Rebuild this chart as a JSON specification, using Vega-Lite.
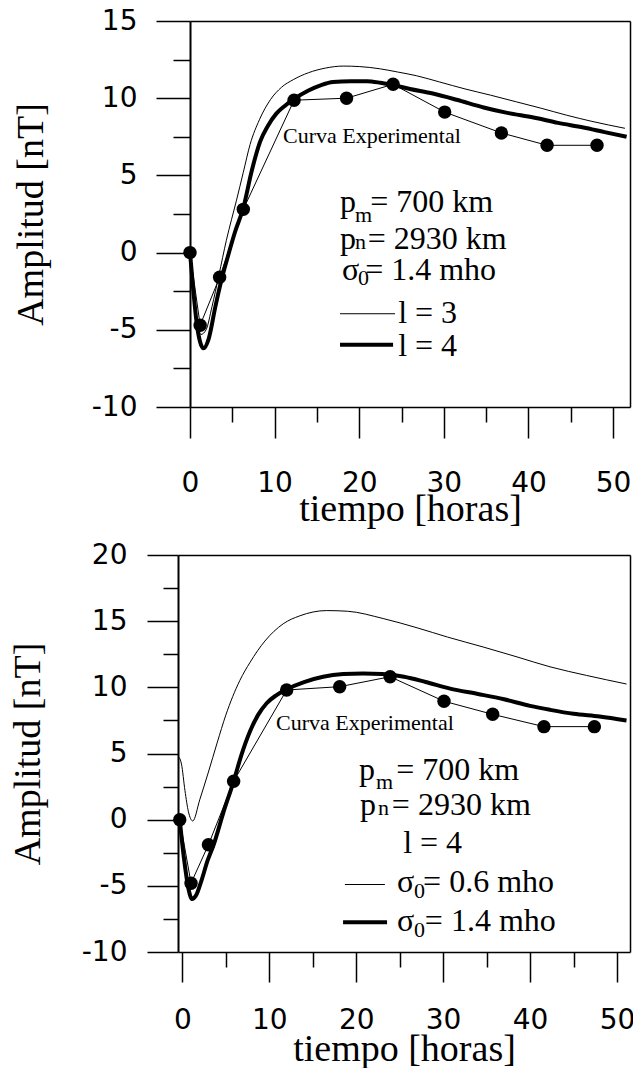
{
  "$schema": "https://vega.github.io/schema/vega-lite/v6.json",
  "background": "white",
  "padding": {"left": 9, "top": 7, "right": 0, "bottom": 0},
  "spacing": 13,
  "datasets": {
    "top_l3": [
      {"t": 0, "a": 0}, {"t": 0.4, "a": -2.3}, {"t": 0.8, "a": -4.3}, {"t": 1.3, "a": -5.3}, {"t": 1.9, "a": -5.0},
      {"t": 2.6, "a": -3.5}, {"t": 3.4, "a": -1.5}, {"t": 4.3, "a": 0.8}, {"t": 5.5, "a": 3.4}, {"t": 6.3, "a": 5.2},
      {"t": 7.1, "a": 7.0}, {"t": 8.2, "a": 8.6}, {"t": 9.5, "a": 9.9}, {"t": 10.8, "a": 10.7}, {"t": 12.2, "a": 11.2},
      {"t": 14, "a": 11.65}, {"t": 16, "a": 11.95}, {"t": 18.1, "a": 12.08}, {"t": 20, "a": 12.05}, {"t": 22.5, "a": 11.9},
      {"t": 24.5, "a": 11.7}, {"t": 26.8, "a": 11.45}, {"t": 29.5, "a": 11.05}, {"t": 32.5, "a": 10.6}, {"t": 35.5, "a": 10.2},
      {"t": 38.6, "a": 9.76}, {"t": 41.5, "a": 9.35}, {"t": 44.5, "a": 8.9}, {"t": 47.5, "a": 8.5}, {"t": 51.4, "a": 8.05}
    ],
    "top_l4": [
      {"t": 0, "a": 0}, {"t": 0.4, "a": -2.5}, {"t": 0.8, "a": -4.6}, {"t": 1.2, "a": -5.8}, {"t": 1.6, "a": -6.2},
      {"t": 2.2, "a": -5.6}, {"t": 3.0, "a": -3.5}, {"t": 3.75, "a": -1.7}, {"t": 4.5, "a": -0.2}, {"t": 5.3, "a": 1.3},
      {"t": 6.3, "a": 2.9}, {"t": 7.3, "a": 5.3}, {"t": 8.3, "a": 7.2}, {"t": 9.2, "a": 8.2}, {"t": 10.2, "a": 9.0},
      {"t": 11.2, "a": 9.5}, {"t": 12.3, "a": 9.95}, {"t": 14, "a": 10.5}, {"t": 15.5, "a": 10.85}, {"t": 16.9, "a": 11.05},
      {"t": 19, "a": 11.1}, {"t": 20.9, "a": 11.1}, {"t": 22.5, "a": 11.0}, {"t": 24, "a": 10.85}, {"t": 26, "a": 10.6},
      {"t": 28.7, "a": 10.3}, {"t": 31.5, "a": 9.9}, {"t": 34.7, "a": 9.4}, {"t": 37.5, "a": 9.05}, {"t": 40.6, "a": 8.75},
      {"t": 43.5, "a": 8.4}, {"t": 46.5, "a": 8.1}, {"t": 49, "a": 7.8}, {"t": 51.6, "a": 7.5}
    ],
    "top_exp": [
      {"t": 0, "a": 0}, {"t": 1.2, "a": -4.7}, {"t": 3.5, "a": -1.6}, {"t": 6.3, "a": 2.8}, {"t": 12.3, "a": 9.87},
      {"t": 18.5, "a": 10.0}, {"t": 24.0, "a": 10.9}, {"t": 30.1, "a": 9.1}, {"t": 36.8, "a": 7.75}, {"t": 42.2, "a": 6.95},
      {"t": 48.1, "a": 6.95}
    ],
    "top_main": [
      {"t": 17.73, "a": 2.6, "text": "p"},
      {"t": 21.3, "a": 2.6, "text": "= 700 km"},
      {"t": 17.73, "a": 0.26, "text": "p"},
      {"t": 21.0, "a": 0.26, "text": "= 2930 km"},
      {"t": 17.97, "a": -1.75, "text": "σ"},
      {"t": 20.7, "a": -1.75, "text": "= 1.4 mho"},
      {"t": 24.6, "a": -4.55, "text": "l = 3"},
      {"t": 24.6, "a": -6.69, "text": "l = 4"}
    ],
    "top_sub": [
      {"t": 19.5, "a": 2.0, "text": "m"},
      {"t": 19.5, "a": 0.26, "text": "n"},
      {"t": 19.86, "a": -2.08, "text": "0"}
    ],
    "top_curva": [{"t": 11.0, "a": 7.53, "text": "Curva Experimental"}],
    "top_thin_key": [{"t": 17.73, "t2": 24.23, "a": -3.96}],
    "top_thick_key": [{"t": 17.73, "t2": 24.0, "a": -5.97}],
    "bot_s06": [
      {"t": -0.35, "a": 4.7}, {"t": -0.1, "a": 4.2}, {"t": 0.3, "a": 2.2}, {"t": 0.7, "a": 0.6}, {"t": 1.2, "a": -0.1},
      {"t": 2.0, "a": 1.5}, {"t": 3.0, "a": 3.6}, {"t": 4.0, "a": 5.8}, {"t": 5.0, "a": 7.9}, {"t": 6.6, "a": 10.5},
      {"t": 7.8, "a": 11.9}, {"t": 9.5, "a": 13.5}, {"t": 11.6, "a": 14.8}, {"t": 13.5, "a": 15.4}, {"t": 16.6, "a": 15.8},
      {"t": 19, "a": 15.75}, {"t": 23.1, "a": 15.2}, {"t": 27, "a": 14.5}, {"t": 30.5, "a": 13.8}, {"t": 34.6, "a": 13.05},
      {"t": 38.5, "a": 12.3}, {"t": 42.3, "a": 11.55}, {"t": 46.5, "a": 10.9}, {"t": 51.1, "a": 10.25}
    ],
    "bot_s14": [
      {"t": -0.3, "a": 0}, {"t": 0.2, "a": -3.0}, {"t": 0.7, "a": -5.2}, {"t": 1.1, "a": -6.0}, {"t": 1.6, "a": -5.7},
      {"t": 2.2, "a": -4.6}, {"t": 2.9, "a": -3.1}, {"t": 3.6, "a": -1.9}, {"t": 4.7, "a": 0.5}, {"t": 5.9, "a": 2.9},
      {"t": 6.8, "a": 4.9}, {"t": 7.8, "a": 6.7}, {"t": 8.7, "a": 7.9}, {"t": 9.7, "a": 8.8}, {"t": 10.8, "a": 9.4},
      {"t": 12, "a": 9.85}, {"t": 14, "a": 10.4}, {"t": 16.2, "a": 10.8}, {"t": 18.5, "a": 11.0}, {"t": 20.8, "a": 11.05},
      {"t": 23, "a": 11.0}, {"t": 25.5, "a": 10.8}, {"t": 28, "a": 10.4}, {"t": 30.8, "a": 9.9}, {"t": 34, "a": 9.5},
      {"t": 37, "a": 9.1}, {"t": 40, "a": 8.6}, {"t": 42.3, "a": 8.3}, {"t": 45, "a": 8.0}, {"t": 48, "a": 7.8},
      {"t": 51.1, "a": 7.5}
    ],
    "bot_exp": [
      {"t": -0.3, "a": 0}, {"t": 1.0, "a": -4.8}, {"t": 3.0, "a": -1.9}, {"t": 5.9, "a": 2.9}, {"t": 12.0, "a": 9.8},
      {"t": 18.1, "a": 10.05}, {"t": 23.9, "a": 10.8}, {"t": 30.1, "a": 8.95}, {"t": 35.7, "a": 7.96}, {"t": 41.6, "a": 7.03},
      {"t": 47.4, "a": 7.03}
    ],
    "bot_main": [
      {"t": 20.33, "a": 3.01, "text": "p"},
      {"t": 24.6, "a": 3.01, "text": "= 700 km"},
      {"t": 20.44, "a": 0.38, "text": "p"},
      {"t": 24.1, "a": 0.38, "text": "= 2930 km"},
      {"t": 25.4, "a": -2.49, "text": "l = 4"},
      {"t": 24.7, "a": -5.5, "text": "σ"},
      {"t": 27.7, "a": -5.5, "text": "= 0.6 mho"},
      {"t": 24.7, "a": -8.44, "text": "σ"},
      {"t": 27.9, "a": -8.44, "text": "= 1.4 mho"}
    ],
    "bot_sub": [
      {"t": 22.28, "a": 2.34, "text": "m"},
      {"t": 22.5, "a": 0.38, "text": "n"},
      {"t": 26.66, "a": -5.95, "text": "0"},
      {"t": 26.66, "a": -8.9, "text": "0"}
    ],
    "bot_curva": [{"t": 10.78, "a": 7.31, "text": "Curva Experimental"}],
    "bot_thin_key": [{"t": 18.7, "t2": 23.3, "a": -4.9}],
    "bot_thick_key": [{"t": 18.49, "t2": 23.55, "a": -7.76}]
  },
  "vconcat": [
    {
      "width": 452,
      "height": 386,
      "encoding": {
        "x": {"field": "t", "type": "quantitative", "scale": {"domain": [0, 52], "range": [12, 452], "nice": false, "zero": false}, "axis": null},
        "y": {"field": "a", "type": "quantitative", "scale": {"domain": [-10, 15], "nice": false, "zero": false}, "axis": null}
      },
      "resolve": {"axis": {"x": "independent", "y": "independent"}},
      "layer": [
        {
          "data": {"name": "top_l3"},
          "mark": {"type": "line", "color": "black", "strokeWidth": 1, "interpolate": "monotone"},
          "encoding": {
            "x": {"field": "t", "type": "quantitative", "scale": {"domain": [0, 52], "range": [12, 452], "nice": false, "zero": false},
              "axis": {"orient": "bottom", "values": [0, 10, 20, 30, 40, 50], "tickSize": 31, "labelPadding": 31, "title": "tiempo [horas]", "titlePadding": -7}},
            "y": {"field": "a", "type": "quantitative", "scale": {"domain": [-10, 15], "nice": false, "zero": false},
              "axis": {"orient": "left", "offset": -12, "values": [-10, -5, 0, 5, 10, 15], "tickSize": 34, "labelPadding": 19, "title": "Amplitud [nT]", "titlePadding": 41, "domainWidth": 2,
                "labelExpr": "replace(datum.label, '−', '-')"}}
          }
        },
        {
          "data": {"name": "top_l4"},
          "mark": {"type": "line", "color": "black", "strokeWidth": 4, "interpolate": "monotone"},
          "encoding": {
            "x": {"field": "t", "type": "quantitative", "scale": {"domain": [0, 52], "range": [12, 452], "nice": false, "zero": false},
              "axis": {"orient": "bottom", "values": [5, 15, 25, 35, 45], "tickSize": 15, "labels": false, "domain": false, "title": null}},
            "y": {"field": "a", "type": "quantitative", "scale": {"domain": [-10, 15], "nice": false, "zero": false},
              "axis": {"orient": "left", "offset": -12, "values": [-7.5, -2.5, 2.5, 7.5, 12.5], "tickSize": 17, "labels": false, "domain": false, "title": null}}
          }
        },
        {
          "data": {"name": "top_exp"},
          "mark": {"type": "line", "color": "black", "strokeWidth": 1},
          "encoding": {
            "x": {"field": "t", "type": "quantitative", "scale": {"domain": [0, 52], "range": [12, 452], "nice": false, "zero": false},
              "axis": {"orient": "top", "ticks": false, "labels": false, "domain": true, "title": null}},
            "y": {"field": "a", "type": "quantitative", "scale": {"domain": [-10, 15], "nice": false, "zero": false},
              "axis": {"orient": "right", "ticks": false, "labels": false, "domain": true, "title": null}}
          }
        },
        {
          "data": {"name": "top_exp"},
          "mark": {"type": "point", "filled": true, "color": "black", "opacity": 1, "size": 180},
          "encoding": {}
        },
        {
          "data": {"name": "top_thin_key"},
          "mark": {"type": "rule", "color": "black", "strokeWidth": 1},
          "encoding": {"x2": {"field": "t2"}}
        },
        {
          "data": {"name": "top_thick_key"},
          "mark": {"type": "rule", "color": "black", "strokeWidth": 4},
          "encoding": {"x2": {"field": "t2"}}
        },
        {
          "data": {"name": "top_main"},
          "mark": {"type": "text", "font": "Liberation Serif", "fontSize": 32, "align": "left", "baseline": "alphabetic", "color": "black"},
          "encoding": {"text": {"field": "text"}}
        },
        {
          "data": {"name": "top_sub"},
          "mark": {"type": "text", "font": "Liberation Serif", "fontSize": 22, "align": "left", "baseline": "alphabetic", "color": "black"},
          "encoding": {"text": {"field": "text"}}
        },
        {
          "data": {"name": "top_curva"},
          "mark": {"type": "text", "font": "Liberation Serif", "fontSize": 22, "align": "left", "baseline": "middle", "color": "black"},
          "encoding": {"text": {"field": "text"}}
        }
      ]
    },
    {
      "width": 452,
      "height": 397,
      "encoding": {
        "x": {"field": "t", "type": "quantitative", "scale": {"domain": [-0.5, 51.5], "nice": false, "zero": false}, "axis": null},
        "y": {"field": "a", "type": "quantitative", "scale": {"domain": [-10, 20], "nice": false, "zero": false}, "axis": null}
      },
      "resolve": {"axis": {"x": "independent", "y": "independent"}},
      "layer": [
        {
          "data": {"name": "bot_s06"},
          "mark": {"type": "line", "color": "black", "strokeWidth": 1, "interpolate": "monotone"},
          "encoding": {
            "x": {"field": "t", "type": "quantitative", "scale": {"domain": [-0.5, 51.5], "nice": false, "zero": false},
              "axis": {"orient": "bottom", "values": [0, 10, 20, 30, 40, 50], "tickSize": 30, "labelPadding": 24, "title": "tiempo [horas]", "titlePadding": -4}},
            "y": {"field": "a", "type": "quantitative", "scale": {"domain": [-10, 20], "nice": false, "zero": false},
              "axis": {"orient": "left", "values": [-10, -5, 0, 5, 10, 15, 20], "tickSize": 31, "labelPadding": 20, "title": "Amplitud [nT]", "titlePadding": 34, "domainWidth": 2,
                "labelExpr": "replace(datum.label, '−', '-')"}}
          }
        },
        {
          "data": {"name": "bot_s14"},
          "mark": {"type": "line", "color": "black", "strokeWidth": 4, "interpolate": "monotone"},
          "encoding": {
            "x": {"field": "t", "type": "quantitative", "scale": {"domain": [-0.5, 51.5], "nice": false, "zero": false},
              "axis": {"orient": "bottom", "values": [5, 15, 25, 35, 45], "tickSize": 15, "labels": false, "domain": false, "title": null}},
            "y": {"field": "a", "type": "quantitative", "scale": {"domain": [-10, 20], "nice": false, "zero": false},
              "axis": {"orient": "left", "values": [-7.5, -2.5, 2.5, 7.5, 12.5, 17.5], "tickSize": 15, "labels": false, "domain": false, "title": null}}
          }
        },
        {
          "data": {"name": "bot_exp"},
          "mark": {"type": "line", "color": "black", "strokeWidth": 1},
          "encoding": {
            "x": {"field": "t", "type": "quantitative", "scale": {"domain": [-0.5, 51.5], "nice": false, "zero": false},
              "axis": {"orient": "top", "ticks": false, "labels": false, "domain": true, "title": null}},
            "y": {"field": "a", "type": "quantitative", "scale": {"domain": [-10, 20], "nice": false, "zero": false},
              "axis": {"orient": "right", "ticks": false, "labels": false, "domain": true, "title": null}}
          }
        },
        {
          "data": {"name": "bot_exp"},
          "mark": {"type": "point", "filled": true, "color": "black", "opacity": 1, "size": 180},
          "encoding": {}
        },
        {
          "data": {"name": "bot_thin_key"},
          "mark": {"type": "rule", "color": "black", "strokeWidth": 1},
          "encoding": {"x2": {"field": "t2"}}
        },
        {
          "data": {"name": "bot_thick_key"},
          "mark": {"type": "rule", "color": "black", "strokeWidth": 4},
          "encoding": {"x2": {"field": "t2"}}
        },
        {
          "data": {"name": "bot_main"},
          "mark": {"type": "text", "font": "Liberation Serif", "fontSize": 32, "align": "left", "baseline": "alphabetic", "color": "black"},
          "encoding": {"text": {"field": "text"}}
        },
        {
          "data": {"name": "bot_sub"},
          "mark": {"type": "text", "font": "Liberation Serif", "fontSize": 22, "align": "left", "baseline": "alphabetic", "color": "black"},
          "encoding": {"text": {"field": "text"}}
        },
        {
          "data": {"name": "bot_curva"},
          "mark": {"type": "text", "font": "Liberation Serif", "fontSize": 22, "align": "left", "baseline": "middle", "color": "black"},
          "encoding": {"text": {"field": "text"}}
        }
      ]
    }
  ],
  "config": {
    "view": {"stroke": null},
    "axis": {
      "domainColor": "black", "domainWidth": 1.5, "tickColor": "black", "tickWidth": 1.5,
      "labelColor": "black", "labelFont": "DejaVu Sans", "labelFontSize": 28,
      "titleFont": "Liberation Serif", "titleFontSize": 38, "titleFontWeight": "normal", "titleColor": "black",
      "grid": false, "labelFlush": false, "labelOverlap": false
    }
  }
}
